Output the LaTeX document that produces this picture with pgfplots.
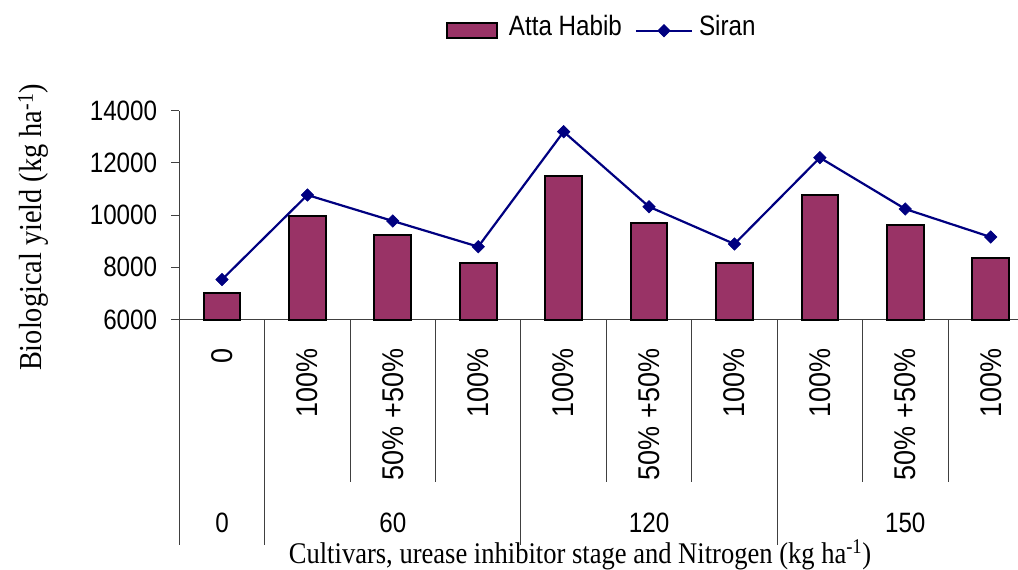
\documentclass[border=0pt]{standalone}
\usepackage{fontspec}
\setmainfont{Liberation Serif}
\setsansfont{Liberation Sans}
\newfontfamily\tickfont[FakeStretch=0.864]{Liberation Sans}
\newfontfamily\rotfont[FakeStretch=0.9]{Liberation Sans}
\newfontfamily\labfont[FakeStretch=0.885]{Liberation Serif}
\usepackage{pgfplots}
\pgfplotsset{compat=1.18}
\definecolor{barc}{HTML}{993366}
\definecolor{linec}{HTML}{000080}
\tikzset{sep/.style={black!75, line width=0.9pt},
  rotl/.style={rotate=90, anchor=east, inner sep=0pt, font=\rotfont\fontsize{30}{32}\selectfont},
  grpl/.style={anchor=center, inner sep=0pt, font=\tickfont\fontsize{28}{30}\selectfont}}
\pgfplotsset{
  barlegend/.style={legend image code/.code={\draw[fill=barc, draw=black, line width=2pt] (0pt,-12.5pt) rectangle (50pt,2.5pt); \path (55pt,0pt);}},
  linelegend/.style={legend image code/.code={\draw[##1, mark repeat=2, mark phase=2] plot coordinates {(0pt,-5pt) (28pt,-5pt) (56pt,-5pt)};}}
}
\begin{document}
\begin{tikzpicture}
\begin{axis}[
  scale only axis,
  width=838.7pt, height=208.8pt,
  xmin=-0.5, xmax=9.32,
  ymin=6000, ymax=14000,
  axis lines*=left,
  axis line style={black!75, line width=0.9pt},
  xtick=\empty,
  ytick={6000,8000,10000,12000,14000},
  scaled y ticks=false,
  ytick pos=left,
  tick align=outside,
  major tick length=8pt,
  tick style={black!75, line width=0.9pt},
  /pgf/number format/assume math mode=true,
  /pgf/number format/1000 sep={},
  yticklabel={\pgfmathprintnumber[fixed,precision=0]{\tick}},
  yticklabel style={font=\tickfont\fontsize{28}{30}\selectfont, inner sep=0pt, xshift=-14pt},
  clip=false,
  legend columns=2,
  legend style={draw=none, fill=none, inner sep=0pt, outer sep=0pt,
    at={(0.3179,1.401)}, anchor=west,
    font=\tickfont\fontsize{28}{30}\selectfont,
    nodes={inner sep=0pt},
    /tikz/every odd column/.append style={column sep=6pt},
    /tikz/every even column/.append style={column sep=13pt}},
]
\addplot[ybar, bar width=0.43, bar shift=0pt, fill=barc, draw=black, line width=2pt, barlegend]
  coordinates {(0,7000) (1,9970) (2,9240) (3,8165) (4,11490) (5,9700) (6,8165) (7,10770) (8,9610) (9,8345)};
\addlegendentry{Atta Habib}
\addplot[linec, line width=2.2pt, mark=square*, mark size=4.4pt, mark options={rotate=45, fill=linec, draw=linec, line width=0.6pt}, linelegend]
  coordinates {(0,7530) (1,10770) (2,9775) (3,8790) (4,13195) (5,10320) (6,8893) (7,12200) (8,10234) (9,9160)};
\addlegendentry{Siran}

% separators below the axis
\draw[sep] (axis cs:-0.5,6000) -- ++(0pt,-225pt);
\draw[sep] (axis cs:0.5,6000) -- ++(0pt,-225pt);
\draw[sep] (axis cs:3.5,6000) -- ++(0pt,-225pt);
\draw[sep] (axis cs:6.5,6000) -- ++(0pt,-225pt);
\draw[sep] (axis cs:1.5,6000) -- ++(0pt,-162pt);
\draw[sep] (axis cs:2.5,6000) -- ++(0pt,-162pt);
\draw[sep] (axis cs:4.5,6000) -- ++(0pt,-162pt);
\draw[sep] (axis cs:5.5,6000) -- ++(0pt,-162pt);
\draw[sep] (axis cs:7.5,6000) -- ++(0pt,-162pt);
\draw[sep] (axis cs:8.5,6000) -- ++(0pt,-162pt);
% first-level labels (rotated)
\node[rotl] at ([yshift=-29pt]axis cs:0,6000) {0};
\node[rotl] at ([yshift=-29pt]axis cs:1,6000) {100\%};
\node[rotl] at ([yshift=-29pt]axis cs:2,6000) {50\% +50\%};
\node[rotl] at ([yshift=-29pt]axis cs:3,6000) {100\%};
\node[rotl] at ([yshift=-29pt]axis cs:4,6000) {100\%};
\node[rotl] at ([yshift=-29pt]axis cs:5,6000) {50\% +50\%};
\node[rotl] at ([yshift=-29pt]axis cs:6,6000) {100\%};
\node[rotl] at ([yshift=-29pt]axis cs:7,6000) {100\%};
\node[rotl] at ([yshift=-29pt]axis cs:8,6000) {50\% +50\%};
\node[rotl] at ([yshift=-29pt]axis cs:9,6000) {100\%};
% group labels
\node[grpl] at ([yshift=-203.5pt]axis cs:0,6000) {0};
\node[grpl] at ([yshift=-203.5pt]axis cs:2,6000) {60};
\node[grpl] at ([yshift=-203.5pt]axis cs:5,6000) {120};
\node[grpl] at ([yshift=-203.5pt]axis cs:8,6000) {150};
% axis titles
\node[rotate=90, anchor=base, inner sep=0pt, font=\labfont\fontsize{32}{34}\selectfont]
  at ([xshift=-137.3pt, yshift=92pt]rel axis cs:0,0) {Biological yield (kg ha\textsuperscript{-1})};
\node[anchor=base, inner sep=0pt, font=\labfont\fontsize{30}{32}\selectfont]
  at ([xshift=400.7pt, yshift=-243.5pt]rel axis cs:0,0) {Cultivars, urease inhibitor stage and Nitrogen (kg ha\textsuperscript{-1})};
\end{axis}
\pgfresetboundingbox
\path[use as bounding box] (-179.3pt,-250.5pt) rectangle (838.7pt,319.5pt);
\end{tikzpicture}
\end{document}
